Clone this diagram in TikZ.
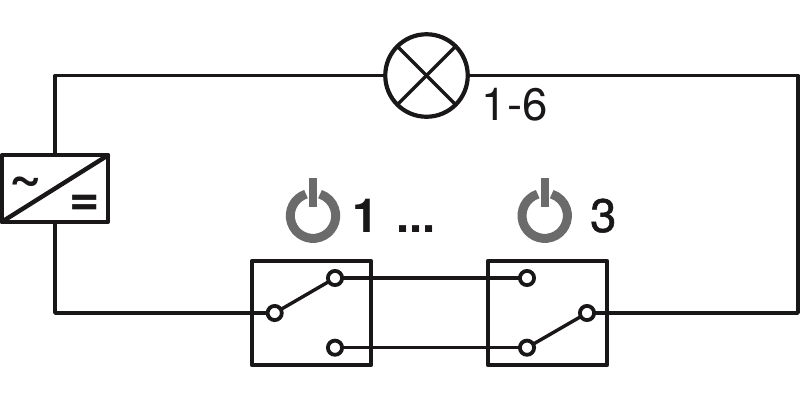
\documentclass[tikz,border=0pt]{standalone}
\usepackage{fontspec}
\setmainfont{TeX Gyre Heros}
\newfontfamily\heavyheros[FakeBold=1.2]{TeX Gyre Heros}
\definecolor{ink}{HTML}{1A1718}
\definecolor{pwr}{HTML}{6B6B6B}
\tikzset{
  wire/.style={draw=ink,line width=3.4pt,line join=round},
  boxframe/.style={draw=ink,line width=4.4pt,line join=round,fill=white,rectangle,inner sep=0pt,outer sep=0pt},
  contact/.style={circle,draw=ink,line width=3.8pt,fill=white,minimum size=14.2pt,inner sep=0pt,outer sep=0pt},
  lamp/.style={circle,draw=ink,line width=4.2pt,fill=white,minimum size=82.5pt,inner sep=0pt,outer sep=0pt},
  lbl/.style={text=ink,inner sep=0pt,anchor=base west},
  pwrarc/.style={draw=pwr,line width=9pt},
  pwrbar/.style={fill=pwr,draw=none,rectangle,minimum width=8pt,minimum height=29pt,inner sep=0pt,outer sep=0pt}
}
\begin{document}
\begin{tikzpicture}[x=1pt,y=-1pt]
\useasboundingbox (0,0) rectangle (800,400);
\fill[white] (0,0) rectangle (800,400);
% corners
\coordinate (tl) at (55,75.5);
\coordinate (tr) at (798,75.5);
\coordinate (br) at (798,313);
\coordinate (bl) at (55,313);
% nodes
\node[lamp] (L) at (426.5,75.5) {};
\node[boxframe,minimum width=106pt,minimum height=66.5pt] (C) at (55,188.5) {};
\node[boxframe,minimum width=119pt,minimum height=104pt] (S1) at (311.5,313) {};
\node[boxframe,minimum width=119pt,minimum height=104pt] (S2) at (547.5,313) {};
\coordinate (Ctop) at (C.north);
% wires
\draw[wire] (L.east) -- (tr) -- (br) -- (S2.east);
\draw[wire] (L.west) -- (tl) -- (Ctop);
\draw[wire] (C.south) -- (bl) -- (S1.west);
% lamp cross
\draw[wire] (L.45) -- (L.225);
\draw[wire] (L.135) -- (L.315);
% converter
\draw[wire,line width=4.4pt,line cap=round] (C.south west) -- (C.north east);
\node[lbl,font=\bfseries\fontsize{56}{56}\selectfont] (tilde) at (9,194) {\char`\~};
\node[lbl,font=\bfseries\fontsize{52}{52}\selectfont] (eq) at (69.5,215) {=};
% switch contacts
\node[contact] (a1) at (274.7,313) {};
\node[contact] (a2) at (335,278) {};
\node[contact] (a3) at (335,347.7) {};
\node[contact] (b1) at (527,278) {};
\node[contact] (b2) at (527,347.7) {};
\node[contact] (b3) at (587,313) {};
\draw[wire] (S1.west) -- (a1);
\draw[wire] (a1) -- (a2);
\draw[wire] (a2) -- (b1);
\draw[wire] (a3) -- (b2);
\draw[wire] (b2) -- (b3);
\draw[wire] (b3) -- (S2.east);
% power icons
\draw[pwrarc] (313,215.7) ++(-108:22.7) arc[start angle=-108,end angle=-432,radius=22.7];
\node[pwrbar] (p1) at (313,192.5) {};
\draw[pwrarc] (544.7,215.7) ++(-108:22.7) arc[start angle=-108,end angle=-432,radius=22.7];
\node[pwrbar] (p2) at (544.7,192.5) {};
% labels
\node[lbl,font=\bfseries\fontsize{47}{47}\selectfont] (n1) at (352,232) {1};
\node[lbl,font=\bfseries\fontsize{47}{47}\selectfont] (dots) at (396,232) {...};
\node[lbl,font=\heavyheros\fontsize{47}{47}\selectfont] (n3) at (590,232) {3};
\node[lbl,font=\fontsize{45.5}{45.5}\selectfont] (n6) at (481.5,120) {1-6};
\end{tikzpicture}
\end{document}
